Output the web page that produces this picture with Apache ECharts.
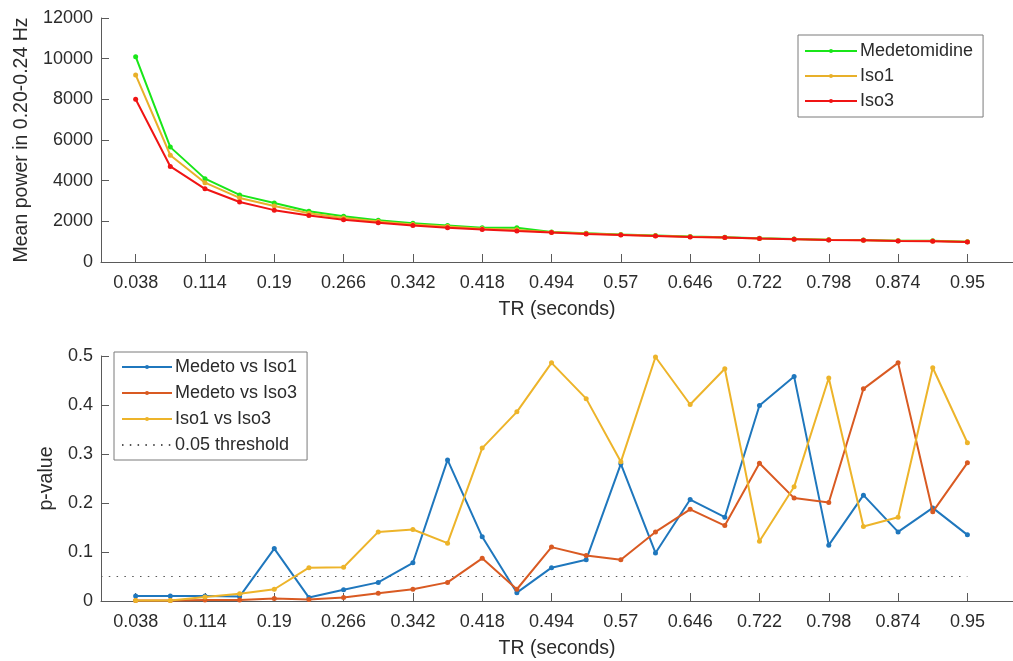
<!DOCTYPE html>
<html>
<head>
<meta charset="utf-8">
<script src="https://cdn.jsdelivr.net/npm/echarts@6/dist/echarts.min.js"></script>
<style>
  html, body { margin: 0; padding: 0; background: #fff; }
  #chart { width: 1013px; height: 661px; }
</style>
</head>
<body>
<div id="chart"></div>
<script>
// Repetition times (seconds)
const tr = [0.038, 0.076, 0.114, 0.152, 0.19, 0.228, 0.266, 0.304, 0.342, 0.38,
            0.418, 0.456, 0.494, 0.532, 0.57, 0.608, 0.646, 0.684, 0.722, 0.76,
            0.798, 0.836, 0.874, 0.912, 0.95];
const trTicks = [0.038, 0.114, 0.19, 0.266, 0.342, 0.418, 0.494, 0.57, 0.646, 0.722, 0.798, 0.874, 0.95];

// Mean power in 0.20-0.24 Hz band
const powerMedetomidine = [10100, 5650, 4100, 3300, 2900, 2500, 2250, 2050, 1900, 1800, 1680, 1690, 1470,
                           1410, 1350, 1300, 1250, 1220, 1170, 1130, 1100, 1080, 1050, 1040, 1000];
const powerIso1 = [9200, 5250, 3900, 3150, 2750, 2400, 2160, 1990, 1850, 1740, 1640, 1580, 1460,
                   1400, 1345, 1290, 1240, 1210, 1160, 1125, 1090, 1070, 1045, 1030, 995];
const powerIso3 = [8000, 4700, 3600, 2950, 2550, 2290, 2080, 1930, 1800, 1690, 1600, 1520, 1445,
                   1380, 1330, 1280, 1230, 1200, 1150, 1115, 1080, 1065, 1035, 1020, 985];

// Pairwise p-values
const pMedetoIso1 = [0.010, 0.010, 0.010, 0.009, 0.107, 0.007, 0.023, 0.038, 0.078, 0.288, 0.131, 0.017, 0.068,
                     0.084, 0.280, 0.098, 0.207, 0.171, 0.399, 0.458, 0.114, 0.216, 0.141, 0.190, 0.135];
const pMedetoIso3 = [0.001, 0.001, 0.002, 0.002, 0.005, 0.003, 0.007, 0.016, 0.024, 0.038, 0.087, 0.024, 0.110,
                     0.093, 0.084, 0.141, 0.187, 0.154, 0.281, 0.210, 0.201, 0.433, 0.486, 0.182, 0.282];
const pIso1Iso3 = [0.001, 0.001, 0.008, 0.015, 0.024, 0.068, 0.069, 0.141, 0.146, 0.118, 0.312, 0.386, 0.486,
                   0.413, 0.284, 0.498, 0.401, 0.474, 0.122, 0.233, 0.455, 0.152, 0.171, 0.476, 0.323];
const thresholdX = [0, 0.95];
const thresholdY = [0.05, 0.05];

const FONT = '"Liberation Sans", Arial, Helvetica, sans-serif';
const TEXT = '#2b2b2b';
const AXIS = '#5a5a5a';

function pairs(xs, ys) { return xs.map((x, i) => [x, ys[i]]); }

function xAxisFor(gridIndex) {
  return {
    gridIndex, type: 'value', min: 0, max: 1,
    name: 'TR (seconds)', nameLocation: 'middle', nameGap: 38,
    nameTextStyle: { fontFamily: FONT, fontSize: 19.5, color: TEXT },
    axisLine: { show: true, onZero: false, lineStyle: { color: AXIS, width: 1 } },
    axisTick: { show: true, inside: true, length: 8, customValues: trTicks, lineStyle: { color: AXIS } },
    axisLabel: { customValues: trTicks, margin: 12, fontFamily: FONT, fontSize: 18, color: TEXT,
                 formatter: v => String(+v.toFixed(3)) },
    splitLine: { show: false }
  };
}

function lineSeries(name, data, color, xi, yi, z) {
  return {
    name, type: 'line', xAxisIndex: xi, yAxisIndex: yi, data,
    symbol: 'circle', symbolSize: 5, showSymbol: true, z,
    lineStyle: { color, width: 2 }, itemStyle: { color },
    emphasis: { disabled: true }, animation: false
  };
}

const chart = echarts.init(document.getElementById('chart'), null, { renderer: 'canvas' });
chart.setOption({
  animation: false,
  grid: [
    { left: 101, right: -3, top: 18, height: 244 },
    { left: 101, right: -3, top: 356, height: 245 }
  ],
  xAxis: [xAxisFor(0), xAxisFor(1)],
  yAxis: [
    {
      gridIndex: 0, type: 'value', min: 0, max: 12000, interval: 2000,
      name: 'Mean power in 0.20-0.24 Hz', nameLocation: 'middle', nameGap: 64,
      nameTextStyle: { fontFamily: FONT, fontSize: 19.5, color: TEXT },
      axisLine: { show: true, lineStyle: { color: AXIS, width: 1 } },
      axisTick: { show: true, inside: true, length: 8, lineStyle: { color: AXIS } },
      axisLabel: { margin: 8, fontFamily: FONT, fontSize: 18, color: TEXT,
                   formatter: v => String(v) },
      splitLine: { show: false }
    },
    {
      gridIndex: 1, type: 'value', min: 0, max: 0.5, interval: 0.1,
      name: 'p-value', nameLocation: 'middle', nameGap: 44,
      nameTextStyle: { fontFamily: FONT, fontSize: 19.5, color: TEXT },
      axisLine: { show: true, lineStyle: { color: AXIS, width: 1 } },
      axisTick: { show: true, inside: true, length: 8, lineStyle: { color: AXIS } },
      axisLabel: { margin: 8, fontFamily: FONT, fontSize: 18, color: TEXT,
                   formatter: v => String(+v.toFixed(1)) },
      splitLine: { show: false }
    }
  ],
  legend: [
    {
      data: ['Medetomidine', 'Iso1', 'Iso3'],
      orient: 'vertical', left: 798, top: 35,
      itemWidth: 52, itemHeight: 5, itemGap: 7,
      padding: [7, 10, 7, 6],
      borderColor: '#7a7a7a', borderWidth: 1, backgroundColor: '#fff',
      textStyle: { fontFamily: FONT, fontSize: 18, color: TEXT, padding: [0, 0, 0, -2] }
    },
    {
      data: ['Medeto vs Iso1', 'Medeto vs Iso3', 'Iso1 vs Iso3', '0.05 threshold'],
      orient: 'vertical', left: 114, top: 352,
      itemWidth: 50, itemHeight: 5, itemGap: 8,
      padding: [6, 10, 6, 7],
      borderColor: '#7a7a7a', borderWidth: 1, backgroundColor: '#fff',
      textStyle: { fontFamily: FONT, fontSize: 18, color: TEXT, padding: [0, 0, 0, -2] }
    }
  ],
  series: [
    lineSeries('Medetomidine', pairs(tr, powerMedetomidine), '#19e619', 0, 0, 2),
    lineSeries('Iso1', pairs(tr, powerIso1), '#e8b02a', 0, 0, 3),
    lineSeries('Iso3', pairs(tr, powerIso3), '#f01414', 0, 0, 4),
    lineSeries('Medeto vs Iso1', pairs(tr, pMedetoIso1), '#1f77bd', 1, 1, 2),
    lineSeries('Medeto vs Iso3', pairs(tr, pMedetoIso3), '#d95a22', 1, 1, 3),
    lineSeries('Iso1 vs Iso3', pairs(tr, pIso1Iso3), '#edb42a', 1, 1, 4),
    {
      name: '0.05 threshold', type: 'line', xAxisIndex: 1, yAxisIndex: 1,
      data: pairs(thresholdX, thresholdY), symbol: 'none', z: 1,
      lineStyle: { color: '#555', width: 1, type: [1.5, 6.3] },
      itemStyle: { color: '#555', opacity: 0 }, emphasis: { disabled: true }, animation: false
    }
  ]
});
</script>
</body>
</html>
